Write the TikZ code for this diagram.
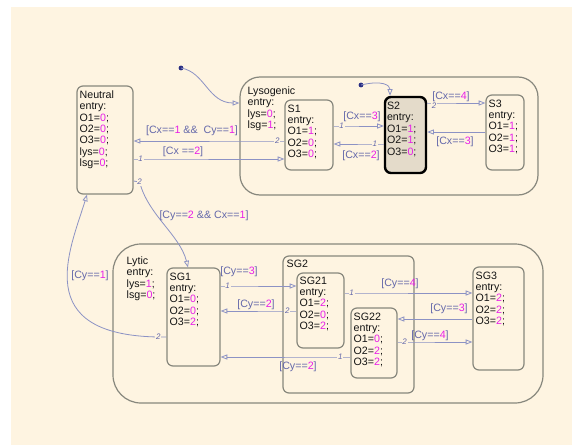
\documentclass[tikz,border=0pt]{standalone}
\usepackage{fontspec}
\setmainfont{Liberation Sans}
\usetikzlibrary{arrows.meta, fit, positioning}
\definecolor{bgcol}{RGB}{254,244,225}
\definecolor{statecol}{RGB}{135,135,125}
\definecolor{trcol}{RGB}{140,146,196}
\definecolor{lblcol}{RGB}{100,104,170}
\definecolor{numcol}{RGB}{232,30,232}
\definecolor{actcol}{RGB}{228,219,202}
\definecolor{dotcol}{RGB}{40,45,130}
\newcommand{\mg}[1]{\textcolor{numcol}{#1}}

\begin{document}
\begin{tikzpicture}[
  x=0.75pt, y=-0.75pt,
  state/.style={draw=statecol, line width=0.9pt, rounded corners=4.5pt, inner sep=0pt},
  super/.style={state, rounded corners=18pt},
  active/.style={draw=black, line width=1.8pt, fill=actcol, rounded corners=4.5pt, inner sep=0pt},
  txt/.style={anchor=north west, inner sep=0pt, align=left, text=black!92, font=\fontsize{8}{8.55}\selectfont},
  tr/.style={draw=trcol, line width=0.6pt, -{Triangle[open, length=5pt, width=3.8pt]}},
  lbl/.style={text=lblcol, inner sep=0pt, font=\fontsize{8}{9}\selectfont},
  num/.style={text=lblcol, fill=bgcol, inner sep=0.6pt, font=\fontsize{6}{6}\selectfont\itshape}
]
  \useasboundingbox (0,0) rectangle (572,446);
  \fill[bgcol] (11,7) rectangle (572,445);

  \node[super, rounded corners=15pt, fit={(240,77) (538,195)}] (lyso) {};
  \node[super, rounded corners=21pt, fit={(113,244) (543,403)}] (lytic) {};
  \node[state, fit={(77,86) (133,194)}] (neutral) {};
  \node[state, fit={(285,100) (333,170)}] (s1) {};
  \node[active, fit={(385,97) (426,173)}] (s2) {};
  \node[state, fit={(486,95) (524,170)}] (s3) {};
  \node[state, fit={(167,268) (220,366)}] (sg1) {};
  \node[state, fit={(283,256) (414,393)}] (sg2) {};
  \node[state, fit={(297,273) (344,348)}] (sg21) {};
  \node[state, fit={(351,308) (397,378)}] (sg22) {};
  \node[state, fit={(473,267) (524,370)}] (sg3) {};

  \node[txt] (neutral-t) at ([shift={(3,5)}]neutral.north west) {Neutral\\entry:\\O1=\mg{0};\\O2=\mg{0};\\O3=\mg{0};\\lys=\mg{0};\\lsg=\mg{0};};
  \node[txt] (lyso-t) at ([shift={(8,10)}]lyso.north west) {Lysogenic\\entry:\\lys=\mg{0};\\lsg=\mg{1};};
  \node[txt] (s1-t) at ([shift={(3,5)}]s1.north west) {S1\\entry:\\O1=\mg{1};\\O2=\mg{0};\\O3=\mg{0};};
  \node[txt] (s2-t) at ([shift={(3,6)}]s2.north west) {S2\\entry:\\O1=\mg{1};\\O2=\mg{1};\\O3=\mg{0};};
  \node[txt] (s3-t) at ([shift={(3,5)}]s3.north west) {S3\\entry:\\O1=\mg{1};\\O2=\mg{1};\\O3=\mg{1};};
  \node[txt] (lytic-t) at ([shift={(14,13)}]lytic.north west) {Lytic\\entry:\\lys=\mg{1};\\lsg=\mg{0};};
  \node[txt] (sg1-t) at ([shift={(3,5)}]sg1.north west) {SG1\\entry:\\O1=\mg{0};\\O2=\mg{0};\\O3=\mg{2};};
  \node[txt] (sg2-t) at ([shift={(4,4)}]sg2.north west) {SG2};
  \node[txt] (sg21-t) at ([shift={(3,4)}]sg21.north west) {SG21\\entry:\\O1=\mg{2};\\O2=\mg{0};\\O3=\mg{2};};
  \node[txt] (sg22-t) at ([shift={(3,5)}]sg22.north west) {SG22\\entry:\\O1=\mg{0};\\O2=\mg{2};\\O3=\mg{2};};
  \node[txt] (sg3-t) at ([shift={(3,5)}]sg3.north west) {SG3\\entry:\\O1=\mg{2};\\O2=\mg{2};\\O3=\mg{2};};

  % default transitions
  \coordinate (init1) at (181,68);
  \coordinate (init2) at (361,85);
  \fill[dotcol] (init1) circle (1.8pt);
  \fill[dotcol] (init2) circle (1.8pt);
  \draw[tr] (init1) .. controls (205,72) and (208,103) .. (lyso.west |- 0,103);
  \draw[tr] (init2) .. controls (382,80) and (390,85) .. (s2.north -| 390,0);

  \draw[tr] (neutral.east |- 0,159) -- ++(7,0) node[num]{1} -- (s1.west |- 0,159);
  \draw[tr] (s1.west |- 0,141) -- ++(-7,0) node[num]{2} -- (neutral.east |- 0,141);
  \draw[tr] (s1.east |- 0,126) -- ++(8,0) node[num]{1} -- (s2.west |- 0,126);
  \draw[tr] (s2.west |- 0,144) -- ++(-9,0) node[num]{1} -- (s1.east |- 0,144);
  \draw[tr] (s2.east |- 0,103) -- ++(7,0) node[num, yshift=-2pt]{2} -- (s3.west |- 0,103);
  \draw[tr] (s3.west |- 0,132) -- (s2.east |- 0,132);
  \draw[tr] (neutral.east |- 0,181) -- ++(6,1) node[num]{2} .. controls (148,215) and (180,235) .. (sg1.north -| 188,0);
  \draw[tr] (sg1.west |- 0,337) -- ++(-8,0) node[num]{2} .. controls (30,335) and (70,250) .. (neutral.south -| 87,0);
  \draw[tr] (sg1.east |- 0,286) -- ++(7,0) node[num]{1} -- (sg21.west |- 0,286);
  \draw[tr] (sg21.west |- 0,311) -- ++(-9,0) node[num]{2} -- (sg1.east |- 0,311);
  \draw[tr] (sg22.west |- 0,357) -- ++(-10,0) node[num]{1} -- (sg1.east |- 0,357);
  \draw[tr] (sg21.east |- 0,293) -- ++(7,0) node[num]{1} -- (sg3.west |- 0,293);
  \draw[tr] (sg3.west |- 0,319) -- (sg22.east |- 0,319);
  \draw[tr] (sg22.east |- 0,342) -- ++(7,0) node[num]{2} -- (sg3.west |- 0,342);

  \node[lbl] (g1) at (192,131) {[Cx==\mg{1} \&\& \ Cy==\mg{1}]};
  \node[lbl] (g2) at (183,152) {[Cx ==\mg{2}]};
  \node[lbl] (g3) at (362,117) {[Cx==\mg{3}]};
  \node[lbl] (g4) at (361,156) {[Cx==\mg{2}]};
  \node[lbl] (g5) at (451,97) {[Cx==\mg{4}]};
  \node[lbl] (g6) at (455,142) {[Cx==\mg{3}]};
  \node[lbl] (g7) at (204,216) {[Cy==\mg{2} \&\& Cx==\mg{1}]};
  \node[lbl] (g8) at (90,276) {[Cy==\mg{1}]};
  \node[lbl] (g9) at (239,272) {[Cy==\mg{3}]};
  \node[lbl] (g10) at (256,305) {[Cy==\mg{2}]};
  \node[lbl] (g11) at (298,367) {[Cy==\mg{2}]};
  \node[lbl] (g12) at (400,284) {[Cy==\mg{4}]};
  \node[lbl] (g13) at (449,309) {[Cy==\mg{3}]};
  \node[lbl] (g14) at (430,336) {[Cy==\mg{4}]};
\end{tikzpicture}
\end{document}
